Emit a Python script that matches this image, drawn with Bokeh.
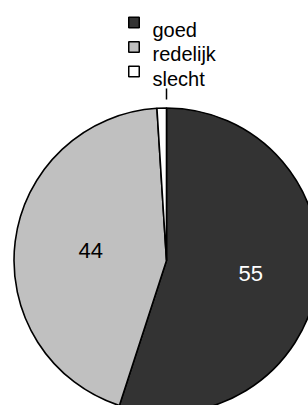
import numpy as np
from bokeh.plotting import figure
from bokeh.models import ColumnDataSource, Range1d
from bokeh.core.properties import value
from bokeh.embed import file_html
from bokeh.resources import INLINE

# ---- data ----
categories = ["goed", "redelijk", "slecht"]
values = [55, 44, 1]
colors = ["#333333", "#c0c0c0", "#ffffff"]
label_colors = ["#ffffff", "#000000", "#000000"]
show_label = [True, True, False]

# ---- layout ----
W, H = 308, 405
cx, cy, R = 166, 145, 152.5
FONT = "Liberation Sans"
label_radius_frac = [0.56, 0.5, 0.5]

p = figure(width=W, height=H, x_range=Range1d(0, W), y_range=Range1d(0, H),
           output_backend="svg", toolbar_location=None, min_border=0)
p.axis.visible = False
p.grid.visible = False
p.outline_line_color = None
p.background_fill_color = "white"
p.border_fill_color = "white"

vals = np.array(values, dtype=float)
frac = vals / vals.sum()
cum_end = np.cumsum(frac)
cum_start = cum_end - frac
start = np.pi / 2 - 2 * np.pi * cum_end
end = np.pi / 2 - 2 * np.pi * cum_start
mid = (start + end) / 2

src = ColumnDataSource(dict(start=start, end=end, color=colors))
p.wedge(x=cx, y=cy, radius=R, start_angle="start", end_angle="end",
        fill_color="color", line_color="black", line_width=1.6, source=src)

# slice labels
lx, ly, lt, lc = [], [], [], []
for m, s, f, v, c in zip(mid, show_label, label_radius_frac, values, label_colors):
    if s:
        lx.append(cx + f * R * np.cos(m))
        ly.append(cy + f * R * np.sin(m))
        lt.append(str(v))
        lc.append(c)
p.text(x=lx, y=ly, text=lt, text_color=lc, text_font=value(FONT),
       text_font_size="22px", text_align="center", text_baseline="alphabetic")

# leader tick at top of the pie
ang = np.pi / 2
p.segment(x0=cx + (R + 8.5) * np.cos(ang), y0=cy + (R + 8.5) * np.sin(ang),
          x1=cx + (R + 19.5) * np.cos(ang), y1=cy + (R + 19.5) * np.sin(ang),
          line_color="black", line_width=1.5)

# legend
n = len(categories)
leg_y = [383 - 24.5 * i for i in range(n)]
p.rect(x=[133.5] * n, y=leg_y, width=10.5, height=10.5, fill_color=colors,
       line_color="black", line_width=1.5)
p.text(x=[152] * n, y=[y - 7 for y in leg_y], text=categories, text_color="black",
       text_font=value(FONT), text_font_size="20px", text_align="left",
       text_baseline="alphabetic")

open("out.html", "w").write(file_html(p, INLINE))
